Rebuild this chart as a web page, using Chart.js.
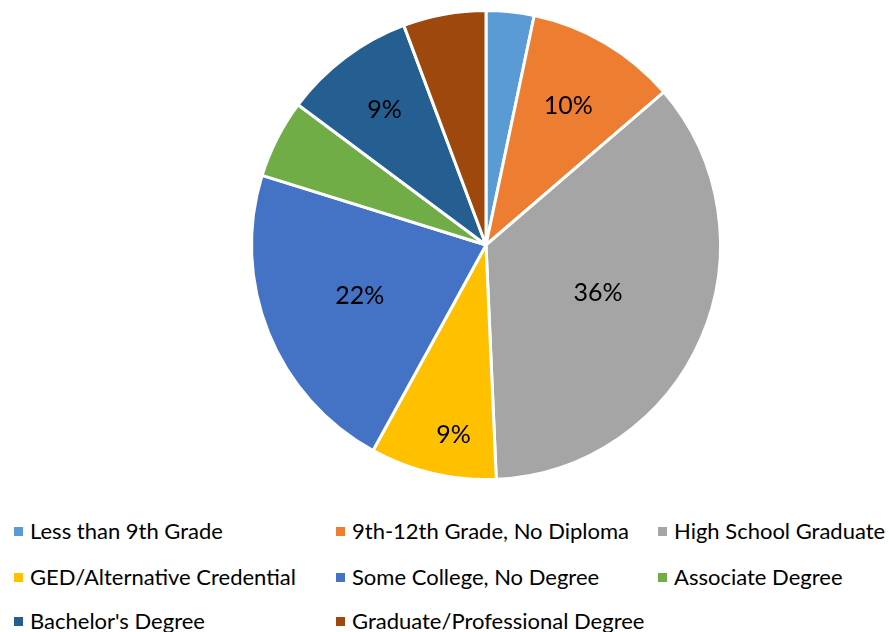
<!DOCTYPE html>
<html><head><meta charset="utf-8">
<script src="https://cdn.jsdelivr.net/npm/chart.js@4/dist/chart.umd.min.js"></script>
<style>
html,body{margin:0;padding:0;background:#fff;}
#wrap{position:relative;width:889px;height:632px;overflow:hidden;}
#c{position:absolute;left:0;top:0;}
.lg{position:absolute;font-family:Lato,"Open Sans",sans-serif;font-size:22px;color:#000;white-space:nowrap;line-height:24px;}
.lg i{position:absolute;left:0;top:8px;width:9px;height:9px;}
.lg span{position:absolute;left:16px;top:0;}
</style></head>
<body><div id="wrap"><canvas id="c" width="889" height="490"></canvas><div id="legend"></div></div>
<script>
const categories = ["Less than 9th Grade","9th-12th Grade, No Diploma","High School Graduate","GED/Alternative Credential","Some College, No Degree","Associate Degree","Bachelor's Degree","Graduate/Professional Degree"];
const shares = [3.3, 10.4, 35.6, 8.7, 21.8, 5.4, 9.1, 5.7];
const sliceColors = ["#5B9BD5","#ED7D31","#A5A5A5","#FFC000","#4472C4","#70AD47","#255E91","#9E480E"];
const shownLabels = [false, true, true, true, true, false, true, false];
const labelRadius = [0.6, 0.69, 0.52, 0.82, 0.58, 0.6, 0.72, 0.6];

const labelPlugin = {
  id: 'pctLabels',
  afterDatasetsDraw(chart) {
    const ctx = chart.ctx;
    const meta = chart.getDatasetMeta(0);
    const total = shares.reduce((a,b)=>a+b,0);
    ctx.save();
    ctx.font = '25px Lato, "Open Sans", sans-serif';
    ctx.fillStyle = '#000';
    ctx.textAlign = 'center';
    ctx.textBaseline = 'middle';
    meta.data.forEach((arc, i) => {
      if (!shownLabels[i]) return;
      let mid = (arc.startAngle + arc.endAngle) / 2;
      if (i === 3) mid -= 0.06;
      const r = arc.outerRadius * labelRadius[i];
      const x = arc.x + Math.cos(mid) * r;
      const y = arc.y + Math.sin(mid) * r;
      ctx.fillText(Math.round(shares[i] / total * 100) + '%', x, y);
    });
    ctx.restore();
  }
};

new Chart(document.getElementById('c'), {
  type: 'pie',
  data: { labels: categories, datasets: [{ data: shares, backgroundColor: sliceColors, borderColor: '#fff', borderWidth: 3 }] },
  options: {
    responsive: false, animation: false,
    layout: { padding: { left: 83, right: 0, top: 9, bottom: 9 } },
    plugins: { legend: { display: false }, tooltip: { enabled: false } }
  },
  plugins: [labelPlugin]
});

const lg = document.getElementById('legend');
const colX = [14, 336, 658];
const rowY = [519, 565, 609];
categories.forEach((name, i) => {
  const d = document.createElement('div');
  d.className = 'lg';
  d.style.left = colX[i % 3] + 'px';
  d.style.top = rowY[Math.floor(i / 3)] + 'px';
  d.innerHTML = '<i style="background:' + sliceColors[i] + '"></i><span></span>';
  d.querySelector('span').textContent = name;
  lg.appendChild(d);
});
</script></body></html>
